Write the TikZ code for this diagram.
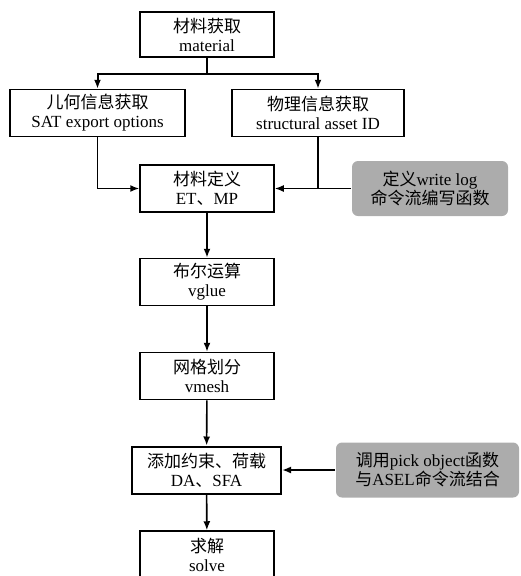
\documentclass[tikz,border=0pt]{standalone}
\usepackage{fontspec}
\setmainfont{Liberation Serif}
\newfontfamily\cjk{Noto Sans CJK SC}
\newcommand{\zh}[1]{{\cjk #1}}
\usetikzlibrary{arrows.meta}
\tikzset{
  box/.style={draw, line width=1.5pt, align=center, minimum width=134pt,
    minimum height=47pt, inner sep=2pt, font=\fontsize{17}{19}\selectfont},
  note/.style={fill=gray!65, rounded corners=6pt, align=center, minimum height=55pt,
    inner sep=2pt, font=\fontsize{17}{19}\selectfont},
  >={Latex[length=9pt,width=7pt]}
}
\begin{document}
\begin{tikzpicture}[x=1pt,y=-1pt,line width=1.6pt]
      \useasboundingbox (0,0) rectangle (520,576);
      \draw
        (207,34.5) node[box, minimum height=45pt, line width=2pt] (mat){\zh{材料获取}\\material}
        (97.5,113) node[box, minimum width=175pt] (geo){\zh{儿何信息获取}\\SAT export options}
        (318,113) node[box, minimum width=172pt] (phy){\zh{物理信息获取}\\structural asset ID}
        (207,188.5) node[box] (def){\zh{材料定义}\\ET\zh{、}MP}
        (430,188.5) node[note, minimum width=156pt] (log){\zh{定义}write log\\\zh{命令流编写函数}}
        (207,282) node[box] (bool){\zh{布尔运算}\\vglue}
        (207,376) node[box] (mesh){\zh{网格划分}\\vmesh}
        (206.5,470) node[box, minimum width=149pt, line width=2pt] (load){\zh{添加约束、荷载}\\DA\zh{、}SFA}
        (427.5,470) node[note, minimum width=183pt] (pick){\zh{调用}pick object\zh{函数}\\\zh{与}ASEL\zh{命令流结合}}
        (207,555) node[box, minimum height=48pt] (solve){\zh{求解}\\solve};
      \begin{scope}[->]
        \draw[-, line width=2pt] (mat.south) -- ++(0,16) coordinate (split);
        \draw[line width=2pt] (split) -| (geo.north);
        \draw[line width=2pt] (split) -| (phy.north);
        \draw (geo.south) |- (def.west);
        \draw (log.west) -- (def.east);
        \draw[-] (phy.south) -- (phy.south |- def.east);
        \draw[line width=2pt] (def) -- (bool);
        \draw (bool) -- (mesh);
        \draw (mesh) -- (load);
        \draw[line width=2pt] (pick.west) -- (load.east);
        \draw (load) -- (solve);
      \end{scope}
    \end{tikzpicture}
\end{document}
